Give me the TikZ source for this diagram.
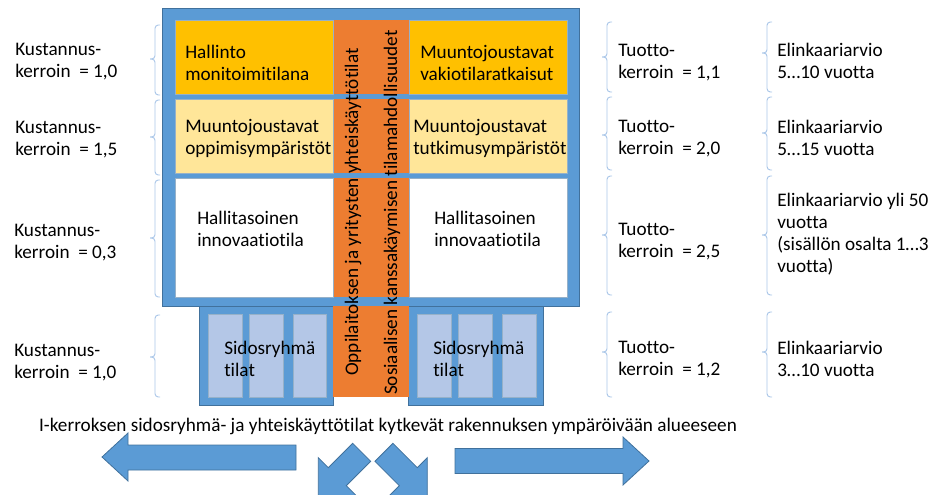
\documentclass[tikz,border=0pt]{standalone}
\usepackage{fontspec}
\setmainfont[Ligatures=NoCommon]{Carlito}
\definecolor{bblue}{HTML}{5B9BD5}
\definecolor{bedge}{HTML}{41719C}
\definecolor{orng}{HTML}{ED7D31}
\definecolor{gold}{HTML}{FFC000}
\definecolor{lyel}{HTML}{FFE699}
\definecolor{lblu}{HTML}{B4C7E7}
\definecolor{brk}{HTML}{A9C6E8}
\begin{document}
\begin{tikzpicture}[x=0.75pt,y=-0.75pt,
  txt/.style={font=\fontsize{14.4}{16.5}\selectfont, align=left, anchor=west, inner sep=0pt},
  vtxt/.style={font=\fontsize{14.4}{16.5}\selectfont, rotate=90, inner sep=0pt},
  blk/.style={fill=bblue, draw=bedge, line width=0.6pt},
  cell/.style={draw=bedge!55, line width=0.4pt},
  bracepath/.style={draw=brk, line width=0.7pt, rounded corners=2.5pt}]
\useasboundingbox (0,0) rectangle (937,495);
\clip (0,0) rectangle (937,495);
% wings
\draw[blk] (199,300) rectangle (333,405);
\draw[blk] (408,300) rectangle (543,405);
% building
\draw[blk] (162,8) rectangle (579,306);
% orange column
\fill[orng] (333,20) rectangle (409,397);
\fill[bblue] (333,94) rectangle (409,99);
\fill[bblue] (333,173) rectangle (409,178);
\fill[bblue] (333,297) rectangle (409,305.6);
% cells
\draw[cell, fill=gold] (175,20) rectangle (333,94);
\draw[cell, fill=gold] (409,20) rectangle (567,94);
\draw[cell, fill=lyel] (175,99) rectangle (333,173);
\draw[cell, fill=lyel] (409,99) rectangle (567,173);
\draw[cell, fill=white] (175,178) rectangle (333,297);
\draw[cell, fill=white] (409,178) rectangle (567,297);
% light columns
\foreach \a/\b in {208/242, 249/283, 293/326, 417/451, 458/492, 502/536}
  \draw[cell, fill=lblu] (\a,314) rectangle (\b,397);
% cell texts
\node[txt] (c1l) at (185,63) {Hallinto\\monitoimitilana};
\node[txt] (c1r) at (420,63) {Muuntojoustavat\\vakiotilaratkaisut};
\node[txt] (c2l) at (185,138.5) {Muuntojoustavat\\oppimisympäristöt};
\node[txt] (c2r) at (413,138.5) {Muuntojoustavat\\tutkimusympäristöt};
\node[txt] (c3l) at (197,229) {Hallitasoinen\\innovaatiotila};
\node[txt] (c3r) at (434,229) {Hallitasoinen\\innovaatiotila};
\node[txt] (s1) at (224,359) {Sidosryhmä\\tilat};
\node[txt] (s2) at (433,359) {Sidosryhmä\\tilat};
% vertical texts
\node[vtxt] (v1) at (353,212) {Oppilaitoksen ja yritysten yhteiskäyttötilat};
\node[vtxt] (v2) at (392,212.5) {Sosiaalisen kanssakäymisen tilamahdollisuudet};
% braces
\foreach \x/\t/\m/\b in {155/25/59/95, 155/100/137/175, 155/180/238/297, 155/315/357/397,
                         607/22/57/92, 607/97/135/170, 607/176/235/295, 607/312/352/397,
                         767/22/53/92, 767/97/133/170, 767/176/235/295, 767/312/352/397}{
  \draw[bracepath] ({\x+5},\t) -- (\x,\t) -- (\x,\m) -- ({\x-5},\m);
  \draw[bracepath] ({\x-5},\m) -- (\x,\m) -- (\x,\b) -- ({\x+5},\b);
}
% left labels
\node[txt] (k1) at (15,61.5) {Kustannus-\\kerroin~ = 1,0};
\node[txt] (k2) at (15,139.5) {Kustannus-\\kerroin~ = 1,5};
\node[txt] (k3) at (14,242.5) {Kustannus-\\kerroin~ = 0,3};
\node[txt] (k4) at (14,362.5) {Kustannus-\\kerroin~ = 1,0};
% tuotto labels
\node[txt] (t1) at (618,62.5) {Tuotto-\\kerroin~ = 1,1};
\node[txt] (t2) at (618,138.5) {Tuotto-\\kerroin~ = 2,0};
\node[txt] (t3) at (618,241.5) {Tuotto-\\kerroin~ = 2,5};
\node[txt] (t4) at (618,360) {Tuotto-\\kerroin~ = 1,2};
% elinkaari labels
\node[txt] (e1) at (777,61) {Elinkaariarvio\\5…10 vuotta};
\node[txt] (e2) at (777,137.5) {Elinkaariarvio\\5…15 vuotta};
\node[txt] (e3) at (777,234) {Elinkaariarvio yli 50\\vuotta\\(sisällön osalta 1…3\\vuotta)};
\node[txt] (e4) at (777,358.5) {Elinkaariarvio\\3…10 vuotta};
% bottom text
\node[txt, anchor=center] (bt) at (388,426) {I-kerroksen sidosryhmä- ja yhteiskäyttötilat kytkevät rakennuksen ympäröivään alueeseen};
% arrows
\draw[blk] (102,457) -- (128,433) -- (128,445) -- (296,445) -- (296,470) -- (128,470) -- (128,481) -- cycle;
\draw[blk] (649,461) -- (623,437) -- (623,448.5) -- (455,448.5) -- (455,473.5) -- (623,473.5) -- (623,485) -- cycle;
\draw[blk] (352.7,443.3) -- (328.3,467.7) -- (318.3,457.7) -- (318.3,495.7) -- (356.3,495.7) -- (346.3,485.7) -- (370.7,461.3) -- cycle;
\draw[blk] (392.9,443.3) -- (417.3,467.7) -- (427.3,457.7) -- (427.3,495.7) -- (389.3,495.7) -- (399.3,485.7) -- (374.9,461.3) -- cycle;
\end{tikzpicture}
\end{document}
